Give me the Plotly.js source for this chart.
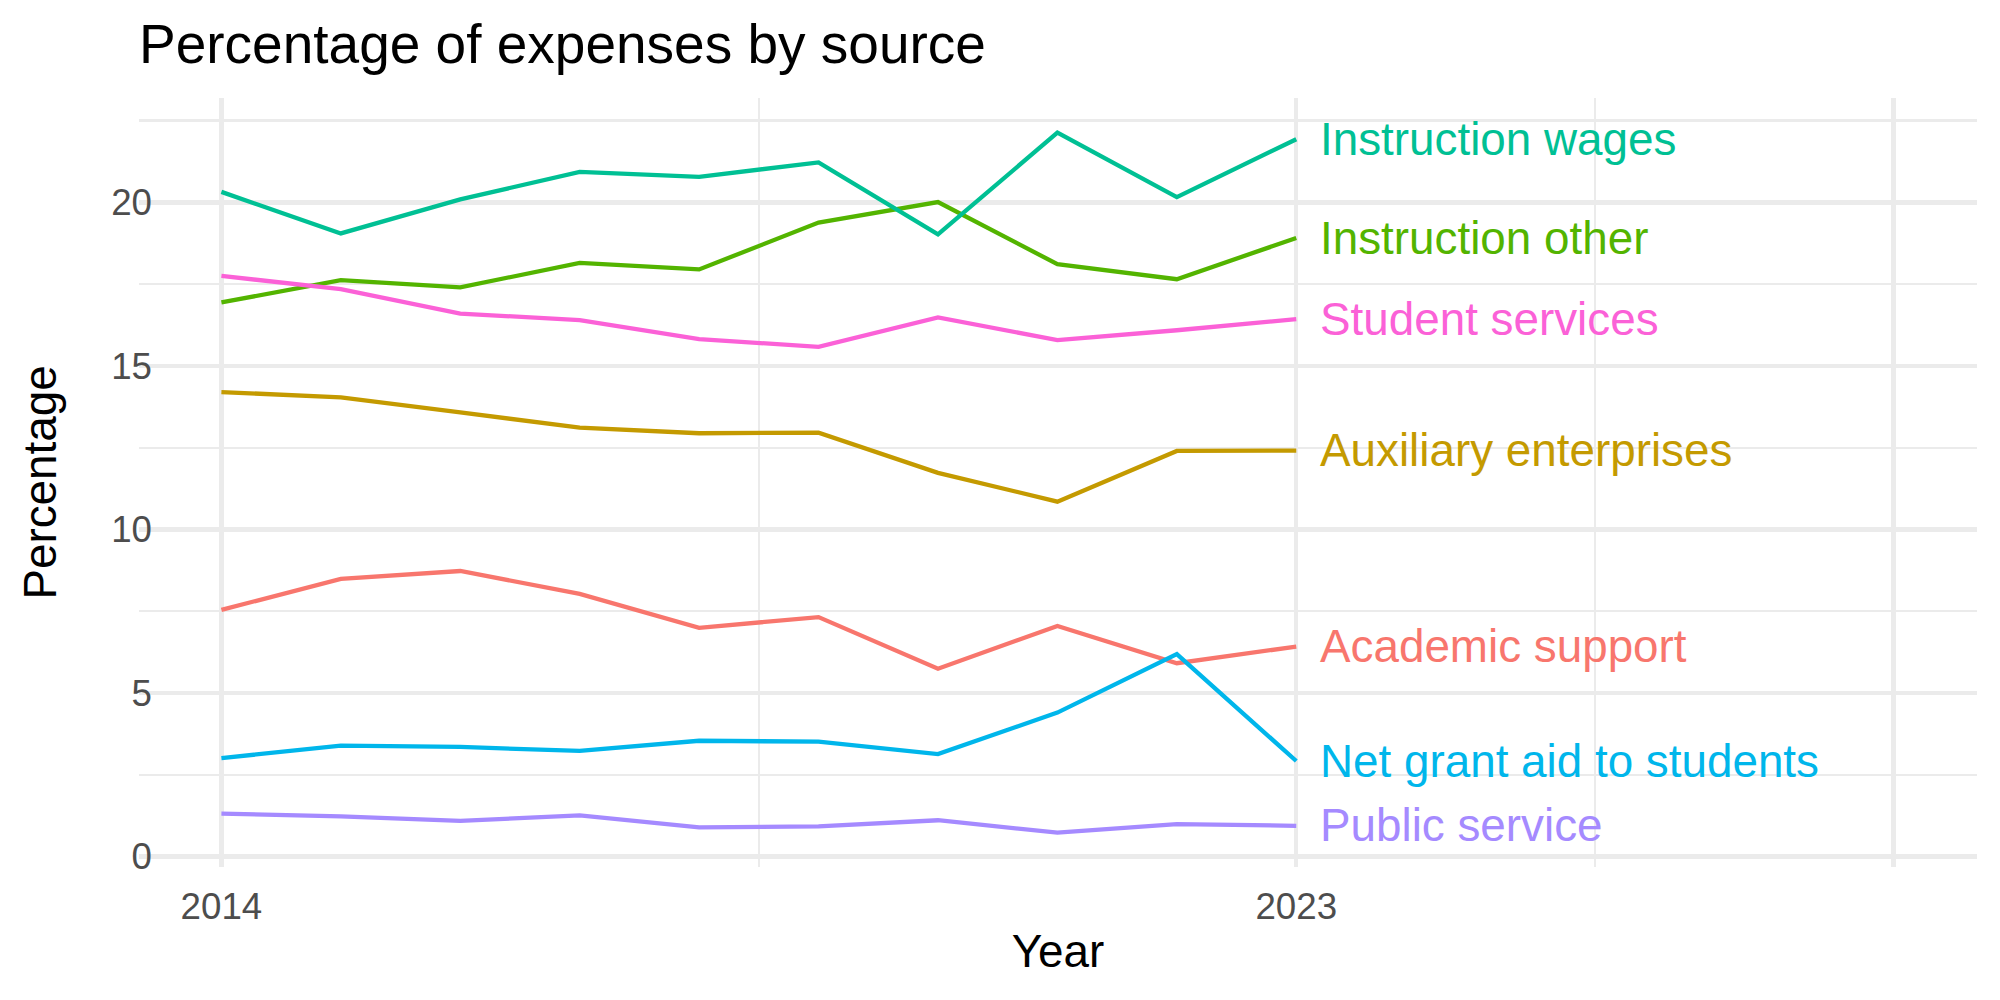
<!DOCTYPE html>
<html>
<head>
<meta charset="utf-8">
<script src="https://cdn.plot.ly/plotly-3.0.1.min.js"></script>
<style>
  html, body { margin: 0; padding: 0; background: #ffffff; }
  #chart { width: 2000px; height: 1000px; }
</style>
</head>
<body>
<div id="chart"></div>
<script>
// ---- Data ----
const years = [2014, 2015, 2016, 2017, 2018, 2019, 2020, 2021, 2022, 2023];

const seriesNames = [
  "Academic support",
  "Auxiliary enterprises",
  "Instruction other",
  "Instruction wages",
  "Net grant aid to students",
  "Public service",
  "Student services"
];

const academicSupport      = [7.54, 8.49, 8.73, 8.03, 6.99, 7.32, 5.74, 7.05, 5.91, 6.42];
const auxiliaryEnterprises = [14.20, 14.04, 13.58, 13.11, 12.94, 12.96, 11.73, 10.85, 12.40, 12.41];
const instructionOther     = [16.94, 17.62, 17.40, 18.15, 17.95, 19.38, 20.01, 18.11, 17.65, 18.91];
const instructionWages     = [20.32, 19.05, 20.09, 20.93, 20.78, 21.22, 19.02, 22.13, 20.16, 21.93];
const netGrantAid          = [3.01, 3.39, 3.35, 3.23, 3.54, 3.51, 3.13, 4.40, 6.19, 2.92];
const publicService        = [1.31, 1.23, 1.09, 1.26, 0.89, 0.92, 1.11, 0.73, 0.99, 0.94];
const studentServices      = [17.75, 17.35, 16.60, 16.40, 15.82, 15.58, 16.48, 15.79, 16.09, 16.43];

const xTickVals  = [2014, 2023, 2028];
const xTickText  = ["2014", "2023", ""];
const xMinorVals = [2018.5, 2025.5];
const yTickVals  = [0, 5, 10, 15, 20];
const yTickText  = ["0", "5", "10", "15", "20"];
const yMinorVals = [2.5, 7.5, 12.5, 17.5, 22.5];

// ---- Styling ----
const seriesValues = [academicSupport, auxiliaryEnterprises, instructionOther,
                      instructionWages, netGrantAid, publicService, studentServices];
const colors = ["#F8766D", "#C49A00", "#53B400", "#00C094", "#00B6EB", "#A58AFF", "#FB61D7"];
const FONT = "Liberation Sans, Arial, Helvetica, sans-serif";
const GRID = "#EBEBEB";

const traces = seriesNames.map((name, i) => ({
  type: "scatter",
  mode: "lines",
  name: name,
  x: years,
  y: seriesValues[i],
  line: { color: colors[i], width: 4.3 },
  hoverinfo: "x+y+name"
}));

const lastYear = years[years.length - 1];
const annotations = seriesNames.map((name, i) => ({
  x: lastYear,
  y: seriesValues[i][seriesValues[i].length - 1],
  xref: "x",
  yref: "y",
  text: name,
  showarrow: false,
  xanchor: "left",
  yanchor: "middle",
  xshift: 22,
  font: { family: FONT, size: 45.8, color: colors[i] }
}));

const layout = {
  width: 2000,
  height: 1000,
  paper_bgcolor: "#ffffff",
  plot_bgcolor: "#ffffff",
  showlegend: false,
  margin: { l: 139, r: 23, t: 98, b: 133, pad: 0 },
  title: {
    text: "Percentage of expenses by source",
    font: { family: FONT, size: 55, color: "#000000" },
    xref: "paper",
    x: 0,
    xanchor: "left",
    yref: "container",
    y: 0.956,
    yanchor: "middle"
  },
  xaxis: {
    range: [2013.31, 2028.70],
    tickmode: "array",
    tickvals: xTickVals,
    ticktext: xTickText,
    ticks: "",
    ticklen: 0,
    ticklabelstandoff: 14,
    tickfont: { family: FONT, size: 36.7, color: "#4D4D4D" },
    showgrid: true,
    gridcolor: GRID,
    gridwidth: 4.4,
    zeroline: false,
    showline: false,
    automargin: false,
    minor: { tickmode: "array", tickvals: xMinorVals, showgrid: true, gridcolor: GRID, gridwidth: 2.2, ticks: "" },
    title: { text: "Year", font: { family: FONT, size: 45.8, color: "#000000" }, standoff: 9 }
  },
  yaxis: {
    range: [-0.32, 23.19],
    tickmode: "array",
    tickvals: yTickVals,
    ticktext: yTickText,
    ticks: "",
    ticklen: 0,
    ticklabelstandoff: -14,
    tickfont: { family: FONT, size: 36.7, color: "#4D4D4D" },
    showgrid: true,
    gridcolor: GRID,
    gridwidth: 4.4,
    zeroline: false,
    showline: false,
    automargin: false,
    minor: { tickmode: "array", tickvals: yMinorVals, showgrid: true, gridcolor: GRID, gridwidth: 2.2, ticks: "" },
    title: { text: "Percentage", font: { family: FONT, size: 45.8, color: "#000000" }, standoff: 40 }
  },
  annotations: annotations
};

Plotly.newPlot("chart", traces, layout, { displayModeBar: false, staticPlot: true });
</script>
</body>
</html>
